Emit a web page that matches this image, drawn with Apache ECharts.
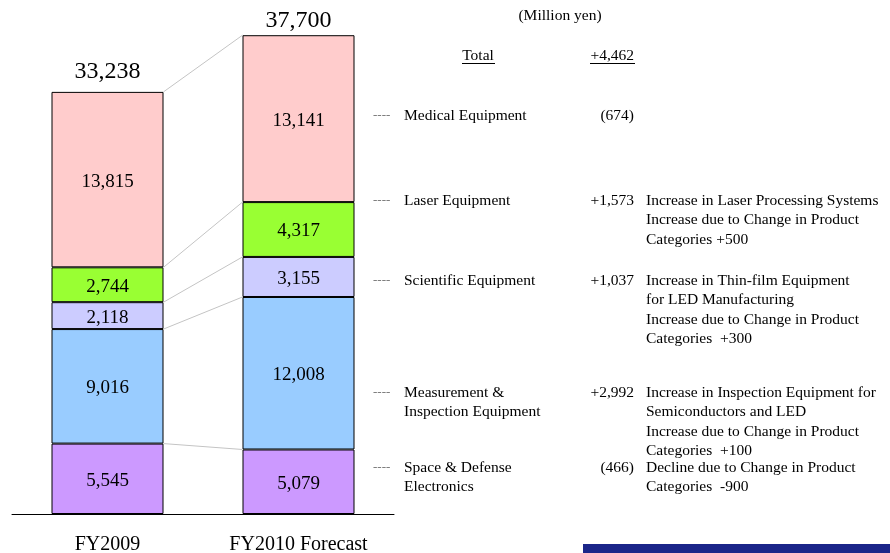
<!DOCTYPE html>
<html>
<head>
<meta charset="utf-8">
<script src="https://cdn.jsdelivr.net/npm/echarts@6/dist/echarts.min.js"></script>
<style>
  html, body { margin: 0; padding: 0; background: #fff; }
  #main { width: 890px; height: 553px; }
</style>
</head>
<body>
<div id="main"></div>
<script>
// data (million yen)
var categories = ['FY2009', 'FY2010 Forecast'];
var spaceDefense = [5545, 5079];
var measurement = [9016, 12008];
var scientific = [2118, 3155];
var laser = [2744, 4317];
var medical = [13815, 13141];

// right side notes
var segmentNames = [
    ['Medical Equipment'],
    ['Laser Equipment'],
    ['Scientific Equipment'],
    ['Measurement &', 'Inspection Equipment'],
    ['Space & Defense', 'Electronics']
];
var changes = ['(674)', '+1,573', '+1,037', '+2,992', '(466)'];
var notes = [
    [],
    ['Increase in Laser Processing Systems', 'Increase due to Change in Product', 'Categories +500'],
    ['Increase in Thin-film Equipment', 'for LED Manufacturing', 'Increase due to Change in Product', 'Categories  +300'],
    ['Increase in Inspection Equipment for', 'Semiconductors and LED', 'Increase due to Change in Product', 'Categories  +100'],
    ['Decline due to Change in Product', 'Categories  -900']
];
var totalChange = '+4,462';

var FONT = '"Liberation Serif", "Times New Roman", serif';
var barWidth = 112;

// 下から積み上げ
var stackOrder = [
    { name: 'Space & Defense Electronics', data: spaceDefense, color: '#CC99FF' },
    { name: 'Measurement & Inspection Equipment', data: measurement, color: '#99CCFF' },
    { name: 'Scientific Equipment', data: scientific, color: '#CCCCFF' },
    { name: 'Laser Equipment', data: laser, color: '#99FF33' },
    { name: 'Medical Equipment', data: medical, color: '#FFCCCC' }
];

var totals = [0, 0];
var boundaries = [];
stackOrder.forEach(function (s) {
    totals[0] += s.data[0];
    totals[1] += s.data[1];
    boundaries.push([boundaries.length, totals[0], totals[1]]);
});

function fmt(v) { return Number(v).toLocaleString('en-US'); }

var series = stackOrder.map(function (s) {
    return {
        name: s.name,
        type: 'bar',
        stack: 'total',
        barWidth: barWidth,
        data: s.data,
        itemStyle: { color: s.color, borderColor: '#000', borderWidth: 1 },
        label: {
            show: true,
            position: 'inside',
            offset: [0, 2],
            color: '#000',
            fontFamily: FONT,
            fontSize: 19,
            formatter: function (p) { return fmt(p.value); }
        },
        emphasis: { disabled: true }
    };
});

// connector lines between the bars
series.push({
    type: 'custom',
    data: boundaries,
    encode: { x: 0, y: 1 },
    z: 1,
    silent: true,
    renderItem: function (params, api) {
        var a = api.coord([0, api.value(1)]);
        var b = api.coord([1, api.value(2)]);
        return {
            type: 'line',
            shape: { x1: a[0] + barWidth / 2, y1: a[1], x2: b[0] - barWidth / 2, y2: b[1] },
            style: { stroke: '#c4c4c4', lineWidth: 1 }
        };
    }
});

// totals above the bars
var totalGap = [20, 15];
series.push({
    type: 'custom',
    data: totals.map(function (t, i) { return [i, t]; }),
    encode: { x: 0, y: 1 },
    silent: true,
    renderItem: function (params, api) {
        var p = api.coord([api.value(0), api.value(1)]);
        return {
            type: 'text',
            x: p[0],
            y: p[1] - totalGap[params.dataIndex],
            style: {
                text: fmt(api.value(1)),
                font: '24px ' + FONT,
                fill: '#000',
                textAlign: 'center',
                textVerticalAlign: 'middle'
            }
        };
    }
});

// annotations on the right
var rowY = [116, 201, 281, 393, 468];
var lineStep = 19.3;
var graphics = [];
function txt(x, y, text, align, extra) {
    var st = { text: text, font: '15.5px ' + FONT, fill: '#000', textAlign: align || 'left', textVerticalAlign: 'middle' };
    if (extra) { for (var k in extra) st[k] = extra[k]; }
    graphics.push({ type: 'text', x: x, y: y, style: st, silent: true });
}
txt(560, 16, '(Million yen)', 'center');
txt(478, 56, 'Total', 'center');
txt(634, 56, totalChange, 'right');
graphics.push({ type: 'line', shape: { x1: 462, y1: 63.5, x2: 495, y2: 63.5 }, style: { stroke: '#000', lineWidth: 1 } });
graphics.push({ type: 'line', shape: { x1: 590, y1: 63.5, x2: 635, y2: 63.5 }, style: { stroke: '#000', lineWidth: 1 } });

segmentNames.forEach(function (lines, i) {
    var y0 = rowY[i];
    txt(373, y0, '----', 'left', { fill: '#777', font: '13px ' + FONT });
    lines.forEach(function (l, j) { txt(404, y0 + j * lineStep, l); });
    txt(634, y0, changes[i], 'right');
    notes[i].forEach(function (l, j) { txt(646, y0 + j * lineStep, l); });
});

graphics.push({
    type: 'rect',
    shape: { x: 583, y: 544, width: 307, height: 9 },
    style: { fill: '#1b2689' },
    silent: true
});

var myChart = echarts.init(document.getElementById('main'));
var option = {
    animation: false,
    grid: { left: 12, width: 382, top: 6, bottom: 39, outerBoundsMode: 'none' },
    xAxis: {
        type: 'category',
        data: categories,
        axisLine: { lineStyle: { color: '#000', width: 1 } },
        axisTick: { show: false },
        axisLabel: { color: '#000', fontFamily: FONT, fontSize: 20, margin: 21 }
    },
    yAxis: {
        type: 'value',
        min: 0,
        max: 40000,
        show: false,
        splitLine: { show: false }
    },
    series: series,
    graphic: graphics
};
myChart.setOption(option);
</script>
</body>
</html>
